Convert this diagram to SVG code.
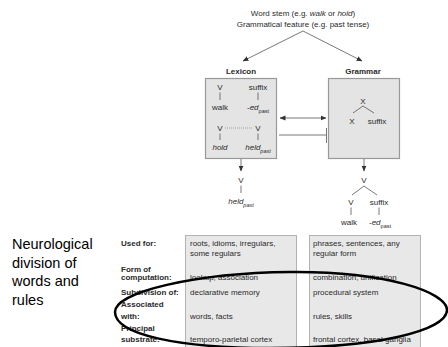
<svg xmlns="http://www.w3.org/2000/svg" width="448" height="347" viewBox="0 0 448 347">
<style>
  text { font-family: "Liberation Sans", Arial, sans-serif; font-size: 8px; fill: #2a2a2a; }
  .c { text-anchor: middle; }
  .b { font-weight: bold; }
  .i { font-style: italic; }
  .sub { font-size: 5.5px; }
  .box { fill: #e4e4e4; stroke: #999; stroke-width: 1.2; }
  .tbox { fill: #e8e8e8; stroke: #b3b3b3; stroke-width: 1; }
  .ln { stroke: #555; stroke-width: 0.8; fill: none; }
  .dot { stroke: #777; stroke-width: 0.6; stroke-dasharray: 1 1; fill: none; }
  .big { font-size: 14.5px; fill: #000; }
  .loop { fill: none; stroke: #000; stroke-width: 2.5; }
</style>
<defs>
  <marker id="ah" viewBox="0 0 6 6" refX="5.5" refY="3" markerWidth="6" markerHeight="6" markerUnits="userSpaceOnUse" orient="auto-start-reverse">
    <path d="M0,0.5 L6,3 L0,5.5 Z" fill="#333"/>
  </marker>
</defs>

<g id="input">
  <text class="c" x="303" y="15.5">Word stem (e.g. <tspan class="i">walk</tspan> or <tspan class="i">hold</tspan>)</text>
  <text class="c" x="303" y="26.5">Grammatical feature (e.g. past tense)</text>
</g>

<g id="lexicon">
  <text class="c b" x="241" y="74">Lexicon</text>
  <rect class="box" x="205.5" y="78.5" width="71" height="80"/>
  <text class="c" x="220" y="90">V</text>
  <line class="ln" x1="220" y1="92.5" x2="220" y2="100"/>
  <text class="c" x="220" y="110">walk</text>
  <text class="c" x="258" y="90">suffix</text>
  <line class="ln" x1="258" y1="92.5" x2="258" y2="100"/>
  <text class="c" x="258" y="110">-<tspan class="i">ed</tspan><tspan class="sub" dy="2.5">past</tspan></text>
  <text class="c" x="220" y="131">V</text>
  <text class="c" x="258" y="131">V</text>
  <line class="dot" x1="225" y1="128" x2="253" y2="128"/>
  <line class="ln" x1="220" y1="133.5" x2="220" y2="140"/>
  <line class="ln" x1="258" y1="133.5" x2="258" y2="140"/>
  <text class="c i" x="220" y="150">hold</text>
  <text class="c i" x="258" y="150">held<tspan class="sub" dy="2.5">past</tspan></text>
</g>

<g id="grammar">
  <text class="c b" x="363" y="74">Grammar</text>
  <rect class="box" x="328.5" y="78.5" width="71" height="80"/>
  <text class="c" x="363" y="104">X</text>
  <path class="ln" d="M353,113 L363,106 L374,113"/>
  <text class="c" x="352" y="124">X</text>
  <text class="c" x="377" y="124">suffix</text>
</g>

<g id="lexicon-output">
  <text class="c" x="241" y="183">V</text>
  <line class="ln" x1="241" y1="185.5" x2="241" y2="193"/>
  <text class="c i" x="241" y="204">held<tspan class="sub" dy="2.5">past</tspan></text>
</g>

<g id="grammar-output">
  <text class="c" x="364" y="183">V</text>
  <path class="ln" d="M352,195 L364,186 L377,195"/>
  <text class="c" x="351" y="205">V</text>
  <text class="c" x="379" y="205">suffix</text>
  <line class="ln" x1="351" y1="207.5" x2="351" y2="215"/>
  <line class="ln" x1="379" y1="207.5" x2="379" y2="215"/>
  <text class="c" x="349" y="225">walk</text>
  <text class="c" x="380" y="225">-<tspan class="i">ed</tspan><tspan class="sub" dy="2.5">past</tspan></text>
</g>

<g id="connectors">
  <line class="ln" x1="303" y1="31" x2="243" y2="61" marker-end="url(#ah)"/>
  <line class="ln" x1="303" y1="31" x2="362" y2="61" marker-end="url(#ah)"/>
  <line class="ln" x1="280" y1="118" x2="326" y2="118" marker-start="url(#ah)" marker-end="url(#ah)"/>
  <line class="ln" x1="279" y1="135" x2="326" y2="135"/>
  <line class="ln" x1="326.5" y1="128" x2="326.5" y2="143"/>
  <line class="ln" x1="241" y1="159" x2="241" y2="171" marker-end="url(#ah)"/>
  <line class="ln" x1="364" y1="159" x2="364" y2="171" marker-end="url(#ah)"/>
</g>

<g id="table">
  <rect class="tbox" x="185.5" y="235.5" width="111" height="120"/>
  <rect class="tbox" x="309.5" y="235.5" width="111" height="120"/>
  <text class="b" x="121" y="246">Used for:</text>
  <text class="b" x="121" y="272">Form of</text>
  <text class="b" x="121" y="280">computation:</text>
  <text class="b" x="121" y="295">Subdivision of:</text>
  <text class="b" x="121" y="307">Associated</text>
  <text class="b" x="121" y="319">with:</text>
  <text class="b" x="121" y="331">Principal</text>
  <text class="b" x="121" y="342">substrate:</text>
  <text x="190" y="246">roots, idioms, irregulars,</text>
  <text x="190" y="256">some regulars</text>
  <text x="190" y="280">lookup, association</text>
  <text x="190" y="295">declarative memory</text>
  <text x="190" y="319">words, facts</text>
  <text x="190" y="342">temporo-parietal cortex</text>
  <text x="313" y="246">phrases, sentences, any</text>
  <text x="313" y="256">regular form</text>
  <text x="313" y="280">combination, unification</text>
  <text x="313" y="295">procedural system</text>
  <text x="313" y="319">rules, skills</text>
  <text x="313" y="342">frontal cortex, basal ganglia</text>
</g>

<g id="caption">
  <text class="big" x="12" y="249">Neurological</text>
  <text class="big" x="12" y="267.5">division of</text>
  <text class="big" x="12" y="286">words and</text>
  <text class="big" x="12" y="304.5">rules</text>
</g>

<g id="loop">
  <path class="loop" d="M115,312 C115,292 195,273 290,272 C385,271 447,292 447,310 C447,330 380,348 270,348 C180,348 115,335 115,312 Z"/>
</g>
</svg>
